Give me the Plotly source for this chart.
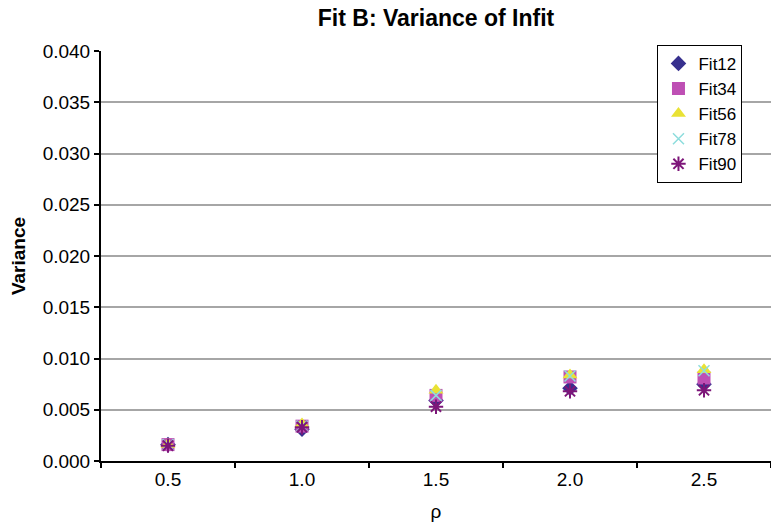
import plotly.graph_objects as go

categories = ["0.5", "1.0", "1.5", "2.0", "2.5"]
fit12 = [0.0016, 0.0031, 0.0059, 0.0071, 0.0075]
fit34 = [0.0016, 0.0034, 0.0064, 0.0082, 0.0081]
fit56 = [0.0016, 0.0036, 0.0069, 0.0084, 0.0089]
fit78 = [0.0016, 0.0034, 0.0064, 0.0083, 0.0088]
fit90 = [0.0015, 0.0033, 0.0053, 0.0068, 0.0069]
y_ticks = [0.000, 0.005, 0.010, 0.015, 0.020, 0.025, 0.030, 0.035, 0.040]

series = [
    ("Fit12", fit12, "diamond", "#37308E", 12, None),
    ("Fit34", fit34, "square", "#BE4FB4", 13, None),
    ("Fit56", fit56, "triangle-up", "#E9E234", 13, None),
    ("Fit78", fit78, "x-thin", "#8EDDDD", 11, 1.5),
    ("Fit90", fit90, "asterisk", "#7D1679", 12, 2),
]

font = "Liberation Sans, Arial, sans-serif"
fig = go.Figure()
for name, vals, sym, col, size, lw in series:
    marker = dict(symbol=sym, color=col, size=size)
    if lw is not None:
        marker["line"] = dict(color=col, width=lw)
    else:
        marker["line"] = dict(width=0)
    fig.add_trace(go.Scatter(x=categories, y=vals, mode="markers", name=name,
                             marker=marker, legendgroup=name))

fig.update_layout(
    width=771, height=529,
    margin=dict(l=101, r=0, t=51, b=68),
    paper_bgcolor="white", plot_bgcolor="white",
    font=dict(family=font, color="black", size=19),
    title=dict(text="<b>Fit B: Variance of Infit</b>", x=(101 + 771) / 2 / 771, xanchor="center",
               y=1 - 18 / 529, yanchor="middle", font=dict(size=23, family=font)),
    legend=dict(x=0.894, xanchor="center", y=1.015, yanchor="top",
                bordercolor="black", borderwidth=1, bgcolor="white",
                font=dict(size=17, family=font), tracegroupgap=0,
                itemwidth=30),
    xaxis=dict(type="category", range=[-0.5, 4.5], showline=True, linecolor="black", linewidth=2,
               ticks="outside", tickson="boundaries", ticklen=5, tickcolor="black", tickwidth=2,
               showgrid=False, title=dict(text="ρ", font=dict(size=19), standoff=16),
               tickfont=dict(size=19)),
    yaxis=dict(range=[0, 0.040], tickvals=y_ticks, tickformat=".3f", showline=True,
               linecolor="black", linewidth=2, ticks="outside", ticklen=5, tickcolor="black",
               tickwidth=2, showgrid=True, gridcolor="#A6A6A6", gridwidth=2, zeroline=False,
               title=dict(text="<b>Variance</b>", font=dict(size=19), standoff=12),
               tickfont=dict(size=19)),
)

fig.write_html("out.html")
